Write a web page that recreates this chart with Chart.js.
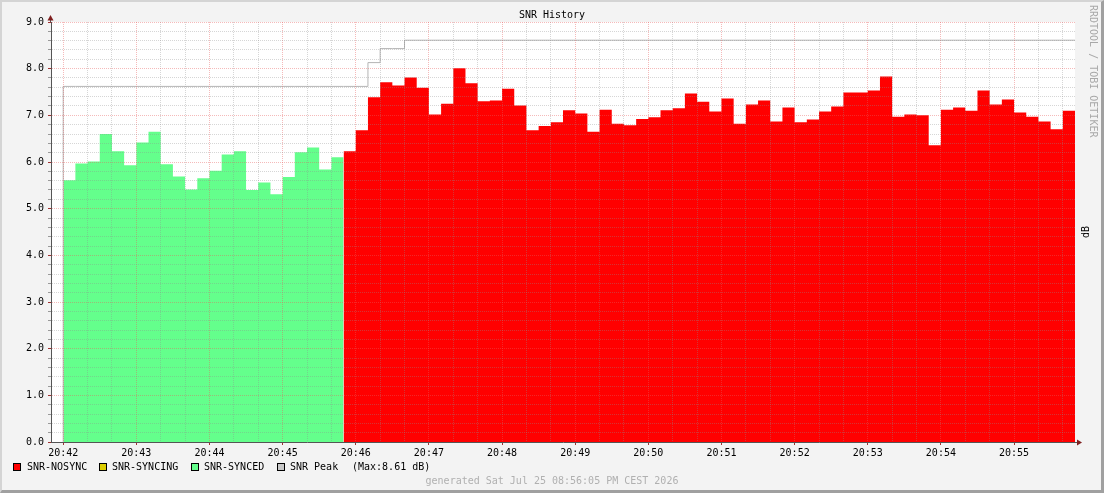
<!DOCTYPE html>
<html><head><meta charset="utf-8">
<script src="https://cdn.jsdelivr.net/npm/chart.js@4.4.0/dist/chart.umd.min.js"></script>
<style>
html,body{margin:0;padding:0;background:#f3f3f3;}
#wrap{position:relative;width:1104px;height:493px;overflow:hidden;background:#f3f3f3;font-family:"DejaVu Sans Mono",monospace;font-size:10px;}
#wrap canvas{position:absolute;left:0;top:0;}
.t{position:absolute;white-space:pre;line-height:10px;color:#000;}
.sw{position:absolute;width:6px;height:6px;border:1px solid #000;top:463px;}
#shade{position:absolute;left:0;top:0;width:1104px;height:493px;box-sizing:border-box;border-top:2px solid #d4d4d4;border-left:2px solid #d4d4d4;border-right:3px solid #a0a0a0;border-bottom:3px solid #a0a0a0;pointer-events:none;}
</style></head>
<body>
<div id="wrap">
<canvas id="c" width="1104" height="493"></canvas>
<div class="t" style="left:0;width:1104px;text-align:center;top:10px;">SNR History</div>
<div class="sw" style="left:13px;background:#ff0000;"></div>
<div class="t" style="left:27px;top:462px;">SNR-NOSYNC</div>
<div class="sw" style="left:99px;background:#dccd00;"></div>
<div class="t" style="left:112px;top:462px;">SNR-SYNCING</div>
<div class="sw" style="left:191px;background:#64ff8c;"></div>
<div class="t" style="left:204px;top:462px;">SNR-SYNCED</div>
<div class="sw" style="left:277px;background:#c8c8c8;"></div>
<div class="t" style="left:290px;top:462px;">SNR Peak</div>
<div class="t" style="left:352px;top:462px;">(Max:8.61 dB)</div>
<div class="t" style="left:0;width:1104px;text-align:center;top:476px;color:#b0b0b0;">generated Sat Jul 25 08:56:05 PM CEST 2026</div>
<div class="t" style="left:1088px;top:5px;writing-mode:vertical-rl;color:#a8a8a8;">RRDTOOL / TOBI OETIKER</div>
<div class="t" style="left:1081px;top:226px;writing-mode:vertical-rl;transform:rotate(180deg);">dB</div>
<div id="shade"></div>
</div>
<script>
const startTime = '20:42:00';
const stepSeconds = 10;
const timeLabels = ['20:42','20:43','20:44','20:45','20:46','20:47','20:48','20:49','20:50','20:51','20:52','20:53','20:54','20:55'];
const yTickLabels = ['0.0','1.0','2.0','3.0','4.0','5.0','6.0','7.0','8.0','9.0'];

const syncedStart = 0;
const syncedValues = [5.61,5.97,6.01,6.60,6.23,5.93,6.42,6.65,5.95,5.69,5.41,5.65,5.81,6.16,6.23,5.40,5.56,5.31,5.68,6.21,6.31,5.84,6.10];
const syncingValues = [];
const nosyncStart = 23;
const nosyncValues = [6.23,6.68,7.39,7.71,7.64,7.81,7.59,7.02,7.25,8.01,7.69,7.30,7.32,7.57,7.21,6.68,6.77,6.85,7.11,7.04,
  6.65,7.12,6.82,6.79,6.92,6.96,7.11,7.15,7.47,7.29,7.08,7.36,6.82,7.23,7.32,6.87,7.17,6.85,6.91,7.08,
  7.19,7.49,7.49,7.53,7.83,6.97,7.02,7.00,6.36,7.12,7.17,7.10,7.53,7.23,7.34,7.06,6.97,6.87,6.70,7.10];
const peakValues = [7.62,7.62,7.62,7.62,7.62,7.62,7.62,7.62,7.62,7.62,7.62,7.62,7.62,7.62,7.62,7.62,7.62,7.62,7.62,7.62,
  7.62,7.62,7.62,7.62,7.62,8.13,8.43,8.43,8.61,8.61,8.61,8.61,8.61,8.61,8.61,8.61,8.61,8.61,8.61,8.61,
  8.61,8.61,8.61,8.61,8.61,8.61,8.61,8.61,8.61,8.61,8.61,8.61,8.61,8.61,8.61,8.61,8.61,8.61,8.61,8.61,
  8.61,8.61,8.61,8.61,8.61,8.61,8.61,8.61,8.61,8.61,8.61,8.61,8.61,8.61,8.61,8.61,8.61,8.61,8.61,8.61,
  8.61,8.61,8.61];

function steps(values, startIdx){
  const pts = values.map((v,i)=>({x:(startIdx+i)*stepSeconds, y:v}));
  if (values.length) pts.push({x:(startIdx+values.length)*stepSeconds, y:values[values.length-1]});
  return pts;
}
const peakPts = steps(peakValues, 0);
peakPts.unshift({x:0, y:0});

const minorCol = 'rgba(140,140,140,0.36)';
const majorCol = 'rgba(230,90,90,0.42)';
const FONT = {family:"'DejaVu Sans Mono', monospace", size:10};

const decor = {
  id:'decor',
  beforeDraw(chart){
    const {ctx, chartArea:a} = chart;
    ctx.save(); ctx.fillStyle='#ffffff';
    ctx.fillRect(a.left, a.top, a.right-a.left, a.bottom-a.top);
    ctx.restore();
  },
  afterDraw(chart){
    const {ctx, chartArea:a} = chart;
    ctx.save();
    ctx.strokeStyle='#555'; ctx.lineWidth=1;
    ctx.beginPath();
    ctx.moveTo(a.left-0.5, a.top); ctx.lineTo(a.left-0.5, a.top-4);
    ctx.moveTo(a.right, a.bottom+0.5); ctx.lineTo(a.right+3, a.bottom+0.5);
    ctx.stroke();
    ctx.fillStyle='#7f1f1f';
    ctx.beginPath();
    ctx.moveTo(a.left-0.5, a.top-7); ctx.lineTo(a.left-3.5, a.top-1.5); ctx.lineTo(a.left+2.5, a.top-1.5);
    ctx.closePath(); ctx.fill();
    ctx.beginPath();
    ctx.moveTo(a.right+7, a.bottom+0.5); ctx.lineTo(a.right+2, a.bottom-2.5); ctx.lineTo(a.right+2, a.bottom+3.5);
    ctx.closePath(); ctx.fill();
    ctx.restore();
  }
};

new Chart(document.getElementById('c'), {
  type:'line',
  data:{datasets:[
    {label:'SNR Peak', data:peakPts, stepped:true, borderColor:'#b4b4b4', borderWidth:1, pointRadius:0, fill:false, order:0},
    {label:'SNR-NOSYNC', data:steps(nosyncValues, nosyncStart), stepped:true, borderWidth:0, borderColor:'rgba(0,0,0,0)', backgroundColor:'#ff0000', pointRadius:0, fill:'origin', order:1},
    {label:'SNR-SYNCING', data:steps(syncingValues, 0), stepped:true, borderWidth:0, borderColor:'rgba(0,0,0,0)', backgroundColor:'#dccd00', pointRadius:0, fill:'origin', order:2},
    {label:'SNR-SYNCED', data:steps(syncedValues, syncedStart), stepped:true, borderWidth:0, borderColor:'rgba(0,0,0,0)', backgroundColor:'#64ff8c', pointRadius:0, fill:'origin', order:3}
  ]},
  options:{
    responsive:false, animation:false, devicePixelRatio:1,
    layout:{padding:{left:0, right:29, top:22, bottom:0}},
    plugins:{legend:{display:false}, title:{display:false}, tooltip:{enabled:false}},
    scales:{
      x:{type:'linear', min:-10, max:830,
        afterBuildTicks(s){ const t=[]; for(let v=0; v<=820; v+=20) t.push({value:v}); s.ticks=t; },
        afterFit(s){ s.height=51; s.paddingLeft=0; s.paddingRight=0; },
        ticks:{autoSkip:false, maxRotation:0, minRotation:0, padding:2, color:'#000', font:FONT,
          callback(v){ const k=Math.round(v); return k%60===0 ? timeLabels[k/60] : ''; }},
        grid:{z:1, lineWidth:1, tickLength:3,
          color(c){ return (c.tick && Math.round(c.tick.value)%60===0) ? majorCol : minorCol; },
          tickColor(c){ return (c.tick && Math.round(c.tick.value)%60===0) ? '#a03030' : 'rgba(0,0,0,0)'; }},
        border:{display:true, color:'#555', width:1, dash:[1,1], z:2}
      },
      y:{type:'linear', min:0, max:9,
        afterBuildTicks(s){ const t=[]; for(let i=0;i<=45;i++) t.push({value:+(i*0.2).toFixed(1)}); s.ticks=t; },
        afterFit(s){ s.width=51; s.paddingTop=0; s.paddingBottom=0; },
        ticks:{autoSkip:false, padding:4, color:'#000', font:FONT,
          callback(v){ const k=Math.round(v*5); return k%5===0 ? yTickLabels[k/5] : ''; }},
        grid:{z:1, lineWidth:1, tickLength:3,
          color(c){ return (c.tick && Math.round(c.tick.value*5)%5===0) ? majorCol : minorCol; },
          tickColor(c){ return (c.tick && Math.round(c.tick.value*5)%5===0) ? '#a03030' : '#999'; }},
        border:{display:true, color:'#555', width:1, dash:[1,1], z:2}
      }
    }
  },
  plugins:[decor]
});
</script>
</body></html>
